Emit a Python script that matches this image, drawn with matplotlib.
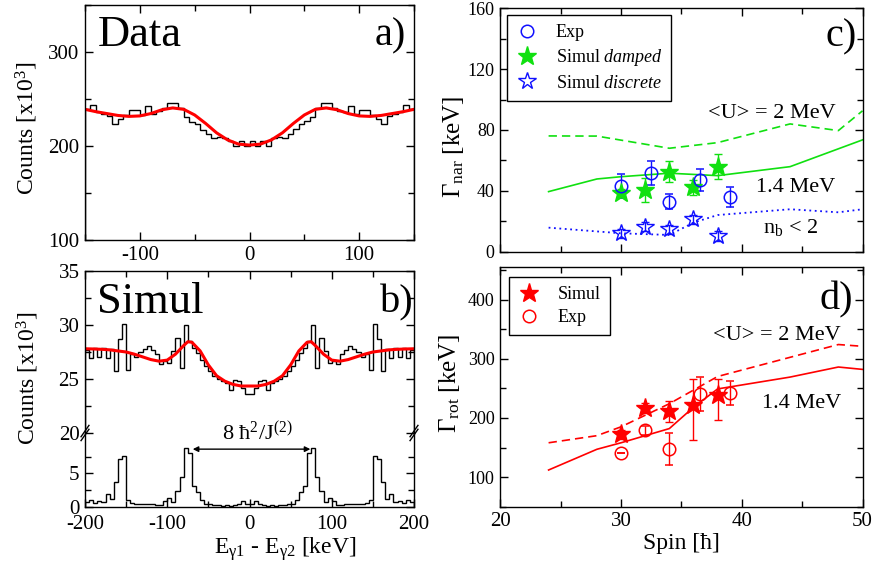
import numpy as np
import matplotlib
matplotlib.use("Agg")
import matplotlib.pyplot as plt
from matplotlib.lines import Line2D
from matplotlib.ticker import MultipleLocator

plt.rcParams['font.family'] = ['Liberation Serif', 'DejaVu Serif']
plt.rcParams['mathtext.fontset'] = 'custom'
plt.rcParams['mathtext.rm'] = 'Liberation Serif'
plt.rcParams['mathtext.it'] = 'Liberation Serif:italic'
plt.rcParams['mathtext.bf'] = 'Liberation Serif:bold'
plt.rcParams['axes.linewidth'] = 1.0
plt.rcParams['axes.unicode_minus'] = False

BLUE = '#1010ff'
GREEN = '#10e010'
RED = '#ff0000'

# ---- panel a: measured difference spectrum (5 keV bins, -150..150) ----
a_edges = np.arange(-150, 151, 5)
a_counts = [239, 244, 236, 234, 232, 223, 229, 233, 238, 238,
            233, 243, 234, 237, 240, 246, 246, 240, 231, 226,
            223, 217, 213, 209, 210, 208, 205, 200, 205, 200,
            205, 200, 205, 200, 209, 210, 208, 213, 218, 223,
            227, 231, 240, 246, 246, 240, 237, 236, 243, 234,
            238, 238, 233, 229, 223, 232, 234, 236, 244, 239]
a_fit_x = [-150, -140, -130, -120, -110, -100, -90, -80, -70, -60, -50, -40, -30, -20, -10, 0,
           10, 20, 30, 40, 50, 60, 70, 80, 90, 100, 110, 120, 130, 140, 150]
a_fit_y = [239, 236.5, 234.5, 232.5, 231.5, 232, 234.5, 238.5, 240.5, 239, 233, 224, 214, 206.5, 202, 201,
           202, 206.5, 214, 224, 233, 239, 240.5, 238.5, 234.5, 232, 231.5, 232.5, 234.5, 236.5, 239]

# ---- panel b: simulated spectra (5 keV bins, -200..200) ----
b_edges = np.arange(-200, 201, 5)
b_damped = [27.7, 26.9, 27.9, 27.0, 27.9, 26.9, 27.8, 25.7, 28.7, 30.1,
            25.8, 27.3, 27.0, 27.5, 27.8, 28.1, 27.7, 27.3, 26.4, 26.7,
            26.5, 27.6, 28.8, 26.0, 30.0, 28.5, 27.9, 27.4, 26.8, 26.2,
            25.7, 25.3, 25.0, 24.8, 24.6, 24.0, 24.9, 24.8, 24.2, 23.6,
            23.6, 24.2, 24.8, 24.9, 24.0, 24.6, 24.8, 25.0, 25.3, 25.7,
            26.2, 26.8, 27.4, 27.9, 28.5, 30.0, 26.0, 28.8, 27.6, 26.5,
            26.7, 26.4, 27.3, 27.7, 28.1, 27.8, 27.5, 27.0, 27.3, 25.8,
            30.1, 28.7, 25.7, 27.8, 26.9, 27.9, 27.0, 27.9, 26.9, 27.7]
b_discrete = [0.8, 1.0, 0.6, 0.9, 0.7, 2.0, 1.2, 3.7, 7.2, 7.6,
              1.1, 0.6, 0.5, 0.5, 0.5, 0.4, 0.4, 0.3, 0.3, 0.9,
              1.4, 0.7, 2.4, 4.4, 8.7, 8.0, 3.1, 2.2, 1.0, 0.5,
              0.4, 0.3, 0.3, 0.2, 0.3, 0.2, 0.3, 0.4, 0.9, 0.4,
              0.4, 0.9, 0.4, 0.3, 0.2, 0.3, 0.2, 0.3, 0.3, 0.4,
              0.5, 1.0, 2.2, 3.1, 8.0, 8.7, 4.4, 2.4, 0.7, 1.4,
              0.9, 0.3, 0.3, 0.4, 0.4, 0.5, 0.5, 0.5, 0.6, 1.1,
              7.6, 7.2, 3.7, 1.2, 2.0, 0.7, 0.9, 0.6, 1.0, 0.8]
b_fit_x = [-200, -190, -180, -170, -160, -150, -140, -130, -120, -110, -100, -90, -80, -75, -70,
           -60, -50, -40, -30, -20, -10, 0, 10, 20, 30, 40, 50, 60, 70, 75, 80, 90, 100, 110,
           120, 130, 140, 150, 160, 170, 180, 190, 200]
b_fit_y = [27.8, 27.78, 27.75, 27.7, 27.6, 27.5, 27.3, 27.05, 26.8, 26.65, 26.75, 27.3, 28.1, 28.45,
           28.4, 27.6, 26.3, 25.3, 24.8, 24.5, 24.35, 24.35, 24.35, 24.5, 24.8, 25.3, 26.3, 27.6,
           28.4, 28.45, 28.1, 27.3, 26.75, 26.65, 26.8, 27.05, 27.3, 27.5, 27.6, 27.7, 27.75, 27.78, 27.8]

# ---- panel c: narrow component width ----
c_exp_spin = [30, 32.5, 34, 36.5, 39]
c_exp_val = [43.4, 51.6, 32.9, 47.2, 36.2]
c_exp_err = [8, 8, 5, 7, 6.5]
c_damp_spin = [30, 32, 34, 36, 38]
c_damp_val = [38.8, 40.6, 52.6, 42.4, 55.9]
c_damp_err = [2.5, 7.7, 7, 5, 8]
c_disc_spin = [30, 32, 34, 36, 38]
c_disc_val = [12.1, 16.5, 14.7, 21.3, 10.3]
c_disc_err = [3, 3, 3, 3, 3]
c_u2_spin = [24, 28, 34, 38, 44, 48, 50]
c_u2_val = [76.1, 76.0, 68.0, 71.7, 84.0, 79.6, 92.6]
c_u14_spin = [24, 28, 30, 34, 38, 44, 50]
c_u14_val = [39.5, 47.8, 49.3, 51.6, 50.0, 55.9, 73.5]
c_nb_spin = [24, 30, 34, 36, 38, 44, 48, 50]
c_nb_val = [15.8, 12.1, 11.0, 19.1, 24.1, 27.9, 25.9, 27.9]

# ---- panel d: rotational damping width ----
d_sim_spin = [30, 32, 34, 36, 38]
d_sim_val = [172, 217, 211, 221, 238]
d_sim_lo = [8, 8, 18, 59, 41]
d_sim_hi = [8, 8, 17, 44, 27]
d_exp_spin = [30, 32, 34, 36.5, 39]
d_exp_val = [141, 179, 147, 240, 242]
d_exp_err = [0, 8, 27, 29, 21]
d_u2_spin = [24, 28, 30, 34, 38, 48, 50]
d_u2_val = [158, 170, 185, 224, 270, 324, 321]
d_u14_spin = [24, 28, 30, 34, 36, 38, 44, 48, 50]
d_u14_val = [112, 147, 158, 182, 218, 249, 269, 286, 282]


def style_ticks(ax, size):
    ax.tick_params(which='both', direction='in', top=True, right=True, labelsize=size, width=1)
    ax.tick_params(which='major', length=6, pad=4)
    ax.tick_params(which='minor', length=4)


fig = plt.figure(figsize=(8.72, 5.64), dpi=100)
W, H = 872.0, 564.0


def add_axes(x0, x1, y0, y1):
    return fig.add_axes([x0 / W, 1 - y1 / H, (x1 - x0) / W, (y1 - y0) / H])


# panel a
ax_a = add_axes(85, 414, 5, 240)
ax_a.stairs(a_counts, a_edges, color='black', lw=1.0)
ax_a.plot(a_fit_x, a_fit_y, color=RED, lw=2.2)
ax_a.set_xlim(-150, 150)
ax_a.set_ylim(100, 350)
ax_a.xaxis.set_major_locator(MultipleLocator(100))
ax_a.xaxis.set_minor_locator(MultipleLocator(50))
ax_a.yaxis.set_major_locator(MultipleLocator(100))
ax_a.yaxis.set_minor_locator(MultipleLocator(50))
style_ticks(ax_a, 15)
ax_a.text(-138.5, 306, 'Data', fontsize=32)
ax_a.text(143, 307, 'a)', fontsize=29, ha='right')
fig.text(27 / W, 1 - 128 / H, r'Counts [x10$^3$]', rotation=90, fontsize=17, ha='center', va='center')

# panel b: broken y axis, upper part damped, lower part discrete
ax_bh = add_axes(85, 414, 271, 433)
ax_bl = add_axes(85, 414, 433, 507)
for ax in (ax_bh, ax_bl):
    ax.patch.set_visible(False)
    ax.set_xlim(-200, 200)
    ax.xaxis.set_major_locator(MultipleLocator(100))
    ax.xaxis.set_minor_locator(MultipleLocator(50))
    style_ticks(ax, 15)
ax_bh.spines['bottom'].set_visible(False)
ax_bl.spines['top'].set_visible(False)
ax_bh.tick_params(which='both', bottom=False, labelbottom=False)
ax_bl.tick_params(which='both', top=False)
ax_bl.tick_params(axis='x', pad=6)

ax_bh.stairs(b_damped, b_edges, color='black', lw=1.0)
ax_bh.plot(b_fit_x, b_fit_y, color=RED, lw=2.2)
ax_bh.set_ylim(20, 35)
ax_bh.yaxis.set_major_locator(MultipleLocator(5))
ax_bh.yaxis.set_minor_locator(MultipleLocator(2.5))

ax_bl.stairs(b_discrete, b_edges, color='black', lw=1.0)
ax_bl.set_ylim(0, 11)
ax_bl.set_yticks([0, 5])
ax_bl.set_yticks([2.5, 7.5], minor=True)

# break marks on both spines
for xb in (0, 1):
    for dy in (-0.012, 0.012):
        ax_bh.plot([xb - 0.012, xb + 0.012], [dy - 0.035, dy + 0.035], transform=ax_bh.transAxes,
                   color='black', lw=1.0, clip_on=False)

ax_bh.text(-185, 31.1, 'Simul', fontsize=32)
ax_bh.text(200, 31.2, 'b)', fontsize=29, ha='right')
ax_bl.annotate('', xy=(-69, 8.6), xytext=(74, 8.6),
               arrowprops=dict(arrowstyle='<|-|>', lw=1.0, color='black', shrinkA=0, shrinkB=0,
                               mutation_scale=8))
ax_bl.text(9, 9.9, r'8 ħ$^2$/J$^{(2)}$', fontsize=16, ha='center', clip_on=False, zorder=5)
fig.text(28 / W, 1 - 378 / H, r'Counts [x10$^3$]', rotation=90, fontsize=17, ha='center', va='center')
fig.text(285 / W, 1 - 549 / H, r'E$_{\mathrm{γ1}}$ - E$_{\mathrm{γ2}}$ [keV]', fontsize=17,
         ha='center', va='center')

# panel c
ax_c = add_axes(500.3, 862.5, 8.3, 251.7)
ax_c.plot(c_u2_spin, c_u2_val, color=GREEN, lw=1.2, ls=(0, (5, 3)))
ax_c.plot(c_u14_spin, c_u14_val, color=GREEN, lw=1.2)
ax_c.plot(c_nb_spin, c_nb_val, color=BLUE, lw=1.3, ls=(0, (1, 2)))
ax_c.errorbar(c_disc_spin, c_disc_val, yerr=c_disc_err, fmt='*', ms=13, mfc='none', mec=BLUE,
              mew=1.0, ecolor=BLUE, elinewidth=1, capsize=3)
ax_c.errorbar(c_damp_spin, c_damp_val, yerr=c_damp_err, fmt='*', ms=14, mfc=GREEN, mec=GREEN,
              ecolor=GREEN, elinewidth=1, capsize=3)
ax_c.errorbar(c_exp_spin, c_exp_val, yerr=c_exp_err, fmt='o', ms=9, mfc='none', mec=BLUE,
              mew=1.1, ecolor=BLUE, elinewidth=1, capsize=3)
ax_c.set_xlim(20, 50)
ax_c.set_ylim(0, 160)
ax_c.xaxis.set_major_locator(MultipleLocator(10))
ax_c.xaxis.set_minor_locator(MultipleLocator(5))
ax_c.yaxis.set_major_locator(MultipleLocator(40))
ax_c.yaxis.set_minor_locator(MultipleLocator(20))
style_ticks(ax_c, 13)
ax_c.tick_params(labelbottom=False)
ax_c.text(49.5, 135, 'c)', fontsize=29, ha='right')
ax_c.text(37.2, 87.8, '<U> = 2 MeV', fontsize=16)
ax_c.text(41.2, 39.5, '1.4 MeV', fontsize=16)
ax_c.text(41.8, 12.1, r'n$_{\mathrm{b}}$ < 2', fontsize=16)
c_handles = [
    Line2D([], [], ls='none', marker='o', ms=9, mfc='none', mec=BLUE, mew=1.1),
    Line2D([], [], ls='none', marker='*', ms=14, mfc=GREEN, mec=GREEN),
    Line2D([], [], ls='none', marker='*', ms=13, mfc='none', mec=BLUE, mew=1.0),
]
leg_c = ax_c.legend(c_handles, ['Exp', r'Simul $\mathit{damped}$', r'Simul $\mathit{discrete}$'],
                    loc='upper left', bbox_to_anchor=(0.018, 0.972), borderaxespad=0, fontsize=13,
                    handlelength=1.2, handletextpad=1.0, borderpad=0.5, labelspacing=0.35,
                    fancybox=False, edgecolor='black', framealpha=1)
leg_c.get_frame().set_linewidth(1.0)
fig.text(453 / W, 1 - 147 / H, r'Γ$_{\mathrm{nar}}$ [keV]', rotation=90, fontsize=18,
         ha='center', va='center')

# panel d
ax_d = add_axes(500.3, 862.5, 267, 506.7)
ax_d.plot(d_u2_spin, d_u2_val, color=RED, lw=1.2, ls=(0, (5, 3)))
ax_d.plot(d_u14_spin, d_u14_val, color=RED, lw=1.2)
ax_d.errorbar(d_sim_spin, d_sim_val, yerr=[d_sim_lo, d_sim_hi], fmt='*', ms=14, mfc=RED, mec=RED,
              ecolor=RED, elinewidth=1, capsize=3)
ax_d.errorbar(d_exp_spin, d_exp_val, yerr=d_exp_err, fmt='o', ms=9, mfc='none', mec=RED,
              mew=1.1, ecolor=RED, elinewidth=1, capsize=3)
ax_d.set_xlim(20, 50)
ax_d.set_ylim(50, 455)
ax_d.xaxis.set_major_locator(MultipleLocator(10))
ax_d.xaxis.set_minor_locator(MultipleLocator(5))
ax_d.yaxis.set_major_locator(MultipleLocator(100))
ax_d.yaxis.set_minor_locator(MultipleLocator(50))
style_ticks(ax_d, 13)
ax_d.tick_params(axis='x', labelsize=15)
ax_d.text(49.25, 384, 'd)', fontsize=29, ha='right')
ax_d.text(37.6, 331, '<U> = 2 MeV', fontsize=16)
ax_d.text(41.65, 216, '1.4 MeV', fontsize=16)
d_handles = [
    Line2D([], [], ls='none', marker='*', ms=14, mfc=RED, mec=RED),
    Line2D([], [], ls='none', marker='o', ms=9, mfc='none', mec=RED, mew=1.1),
]
leg_d = ax_d.legend(d_handles, ['Simul', 'Exp'], loc='upper left', bbox_to_anchor=(0.024, 0.958),
                    borderaxespad=0, fontsize=13, handlelength=1.2, handletextpad=1.0, borderpad=0.5,
                    labelspacing=0.35, fancybox=False, edgecolor='black', framealpha=1)
leg_d.get_frame().set_linewidth(1.0)
fig.text(450 / W, 1 - 383 / H, r'Γ$_{\mathrm{rot}}$ [keV]', rotation=90, fontsize=18,
         ha='center', va='center')
fig.text(681 / W, 1 - 543 / H, 'Spin [ħ]', fontsize=17, ha='center', va='center')

fig.savefig('out.png', dpi=100)
